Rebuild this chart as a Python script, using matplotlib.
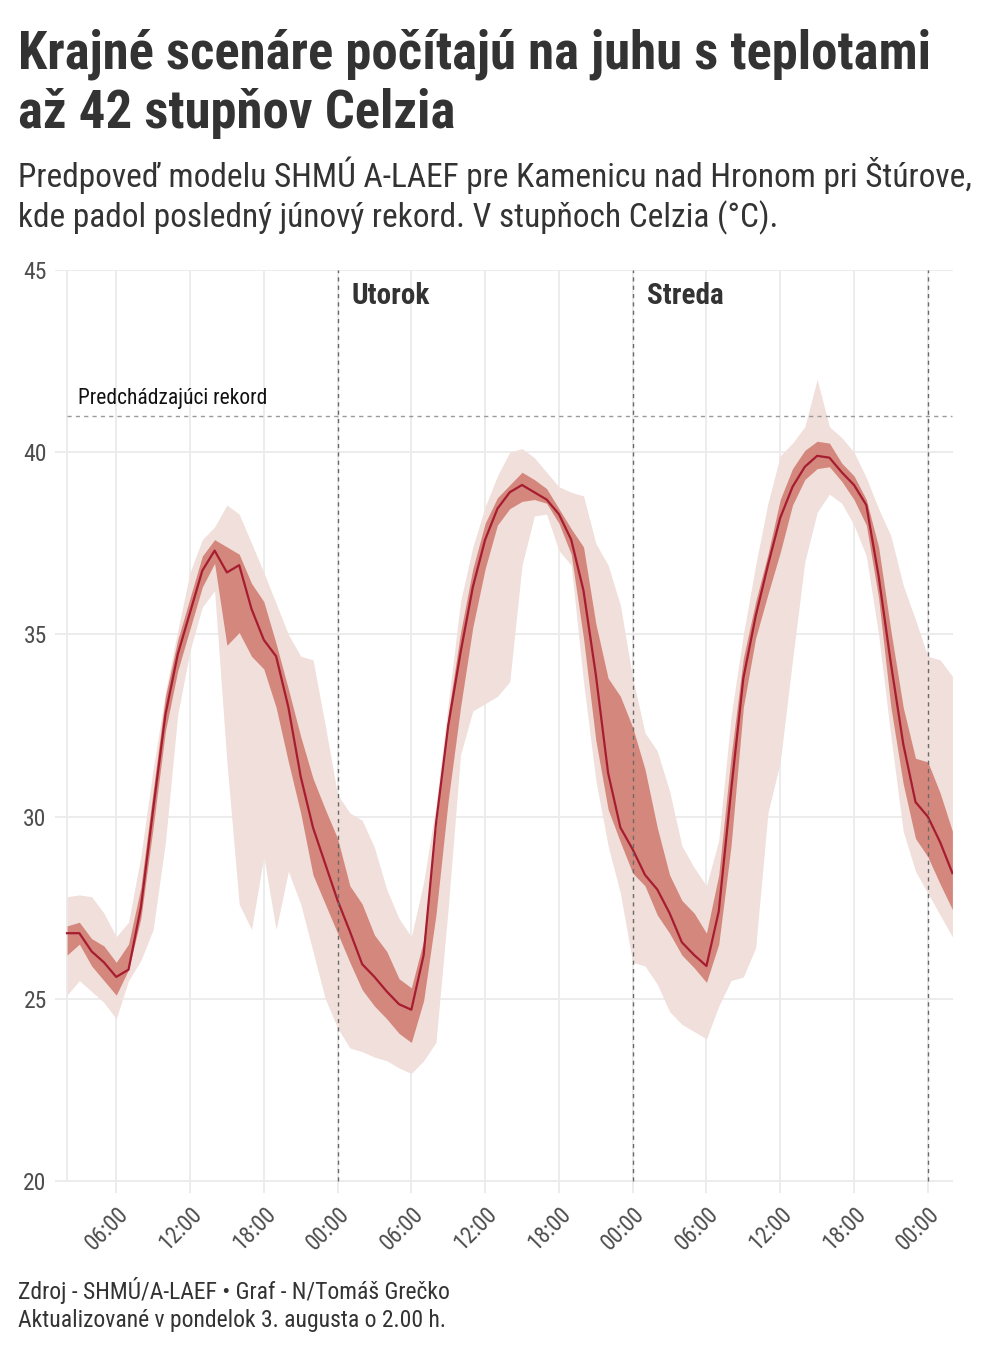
import matplotlib
matplotlib.use("Agg")
import matplotlib.pyplot as plt
import numpy as np

plt.rcParams['font.family'] = ['Roboto Condensed', 'Roboto', 'DejaVu Sans']

# hours since Monday 02:00 (forecast issued Mon 3 Aug, 02:00)
hours = list(range(0, 73))

median = [26.8, 26.8, 26.3, 26.0, 25.6, 25.8, 27.5, 30.2, 32.8, 34.45,
          35.6, 36.75, 37.3, 36.7, 36.9, 35.7, 34.85, 34.4, 33.0, 31.1,
          29.7, 28.7, 27.7, 26.85, 25.95, 25.6, 25.2, 24.85, 24.7, 26.2,
          29.8, 32.5, 34.5, 36.3, 37.6, 38.45, 38.9, 39.1, 38.9, 38.7,
          38.3, 37.6, 36.2, 33.9, 31.2, 29.7, 29.1, 28.4, 28.0, 27.35,
          26.55, 26.2, 25.9, 27.4, 30.7, 33.8, 35.5, 36.9, 38.2, 39.05,
          39.6, 39.9, 39.85, 39.45, 39.1, 38.55, 36.6, 34.2, 32.0, 30.4,
          30.0, 29.3, 28.45]

inner_hi = [27.0, 27.1, 26.65, 26.45, 26.0, 26.5, 28.05, 30.7, 33.3, 34.85,
            36.0, 37.15, 37.6, 37.4, 37.2, 36.4, 35.9, 34.75, 33.5, 32.2,
            31.05, 30.2, 29.4, 28.1, 27.6, 26.75, 26.3, 25.55, 25.3, 26.6,
            29.7, 32.8, 35.05, 36.8, 38.05, 38.75, 39.1, 39.45, 39.25, 39.0,
            38.45, 37.9, 37.4, 35.3, 33.8, 33.3, 32.45, 31.3, 29.7, 28.4,
            27.7, 27.35, 26.8, 28.4, 31.65, 34.35, 35.9, 37.2, 38.7, 39.55,
            40.05, 40.3, 40.25, 39.7, 39.35, 38.7, 37.4, 35.1, 33.0, 31.6,
            31.5, 30.65, 29.6]

inner_lo = [26.2, 26.5, 25.9, 25.5, 25.1, 25.8, 27.2, 29.7, 32.35, 34.0,
            35.15, 36.3, 36.95, 34.7, 35.05, 34.4, 34.05, 33.0, 31.5, 30.1,
            28.4, 27.6, 26.8, 26.0, 25.25, 24.8, 24.45, 24.05, 23.8, 24.95,
            27.3, 30.45, 33.0, 35.2, 36.8, 38.0, 38.45, 38.65, 38.7, 38.6,
            38.05, 37.2, 34.9, 32.1, 30.2, 29.3, 28.45, 28.1, 27.3, 26.8,
            26.2, 25.85, 25.45, 26.5, 29.2, 33.0, 34.9, 36.1, 37.25, 38.55,
            39.25, 39.55, 39.6, 39.2, 38.7, 38.0, 36.0, 33.0, 30.9, 29.4,
            28.9, 28.15, 27.45]

outer_hi = [27.8, 27.85, 27.8, 27.35, 26.7, 27.1, 28.9, 31.3, 33.4, 35.1,
            36.7, 37.6, 37.95, 38.55, 38.3, 37.5, 36.7, 35.85, 35.0, 34.4,
            34.3, 32.5, 30.6, 30.1, 29.9, 29.15, 28.0, 27.2, 26.7, 28.2,
            30.3, 33.1, 35.9, 37.4, 38.5, 39.35, 40.0, 40.1, 39.85, 39.45,
            39.05, 38.9, 38.8, 37.5, 36.9, 35.8, 33.8, 32.3, 31.8, 30.7,
            29.2, 28.6, 28.1, 29.35, 32.75, 35.0, 36.9, 38.6, 39.9, 40.25,
            40.7, 42.0, 40.7, 40.4, 40.0, 39.3, 38.45, 37.7, 36.35, 35.4,
            34.4, 34.3, 33.85]

outer_lo = [25.1, 25.5, 25.2, 24.9, 24.45, 25.5, 26.05, 26.9, 29.3, 32.8,
            34.55, 35.75, 36.2, 31.5, 27.6, 26.9, 28.9, 26.9, 28.5, 27.6,
            26.3, 25.0, 24.2, 23.65, 23.55, 23.4, 23.3, 23.1, 22.95, 23.3,
            23.8, 27.5, 31.7, 32.9, 33.1, 33.3, 33.7, 36.9, 38.25, 38.3,
            37.3, 36.9, 33.7, 31.0, 29.2, 27.9, 26.0, 25.9, 25.4, 24.65,
            24.3, 24.1, 23.9, 24.8, 25.5, 25.6, 26.4, 30.1, 31.5, 34.3,
            37.0, 38.35, 38.85, 38.6, 38.0, 37.15, 35.0, 32.2, 29.6, 28.5,
            27.9, 27.3, 26.7]

record = 41.0
midnights = [22, 46, 70]
day_names = ["Utorok", "Streda"]
tick_hours = [4, 10, 16, 22, 28, 34, 40, 46, 52, 58, 64, 70]
tick_labels = ["06:00", "12:00", "18:00", "00:00"] * 3
y_ticks = [20, 25, 30, 35, 40, 45]

title_lines = ["Krajné scenáre počítajú na juhu s teplotami",
               "až 42 stupňov Celzia"]
subtitle_lines = ["Predpoveď modelu SHMÚ A-LAEF pre Kamenicu nad Hronom pri Štúrove,",
                  "kde padol posledný júnový rekord. V stupňoch Celzia (°C)."]
caption_lines = ["Zdroj - SHMÚ/A-LAEF • Graf - N/Tomáš Grečko",
                 "Aktualizované v pondelok 3. augusta o 2.00 h."]

W, H = 1000, 1352
fig = plt.figure(figsize=(W / 100, H / 100), dpi=100)
ax = fig.add_axes([55 / W, 1 - 1193 / H, 898 / W, 923 / H])

grid_c = "#ebebeb"
for y in y_ticks:
    ax.axhline(y, color=grid_c, lw=1.3, zorder=0)
for x in tick_hours:
    ax.axvline(x, color=grid_c, lw=1.3, zorder=0)
ax.vlines(0, 20, 45, color=grid_c, lw=1.3, zorder=0)

ax.fill_between(hours, outer_lo, outer_hi, color="#f0dfda", lw=0, zorder=1)
ax.fill_between(hours, inner_lo, inner_hi, color="#d4877c", lw=0, zorder=2)
ax.plot(hours, median, color="#a61c30", lw=1.6, zorder=3,
        solid_joinstyle="round")

ax.plot([hours[0], hours[-1]], [record, record], color="#9a9a9a", lw=1.0,
        ls=(0, (3, 3)), zorder=4)
ax.text(0.9, record + 0.32, "Predchádzajúci rekord", fontsize=15.5,
        color="#111111", va="baseline", ha="left", zorder=5)

for m in midnights:
    ax.vlines(m, 20, 45, color="#6a6a6a", lw=1.0, linestyles=(0, (3, 3)), zorder=4)
for m, name in zip(midnights, day_names):
    ax.text(m + 1.15, 44.3, name, fontsize=21, fontweight="bold",
            color="#333333", va="center", ha="left", zorder=5)

ax.set_xlim(-0.98, 72.05)
ax.set_ylim(19.67, 45)
ax.set_xticks(tick_hours)
ax.set_xticklabels(tick_labels, rotation=45, ha="right", va="top",
                   rotation_mode="anchor", fontsize=16.5, color="#4d4d4d")
ax.set_yticks(y_ticks)
ax.set_yticklabels([str(v) for v in y_ticks], fontsize=17, color="#4d4d4d")
ax.tick_params(axis="both", length=0)
ax.tick_params(axis="x", pad=7)
ax.tick_params(axis="y", pad=6)
for s in ax.spines.values():
    s.set_visible(False)

fig.text(18 / W, 1 - 68 / H, title_lines[0], fontsize=38, fontweight="bold",
         color="#333333", va="baseline", ha="left")
fig.text(18 / W, 1 - 128 / H, title_lines[1], fontsize=38, fontweight="bold",
         color="#333333", va="baseline", ha="left")
fig.text(18 / W, 1 - 187 / H, subtitle_lines[0], fontsize=24,
         color="#333333", va="baseline", ha="left")
fig.text(18 / W, 1 - 227 / H, subtitle_lines[1], fontsize=24,
         color="#333333", va="baseline", ha="left")
fig.text(18 / W, 1 - 1299 / H, caption_lines[0], fontsize=17,
         color="#333333", va="baseline", ha="left")
fig.text(18 / W, 1 - 1327 / H, caption_lines[1], fontsize=17,
         color="#333333", va="baseline", ha="left")

fig.savefig("out.png", dpi=100, facecolor="white")
